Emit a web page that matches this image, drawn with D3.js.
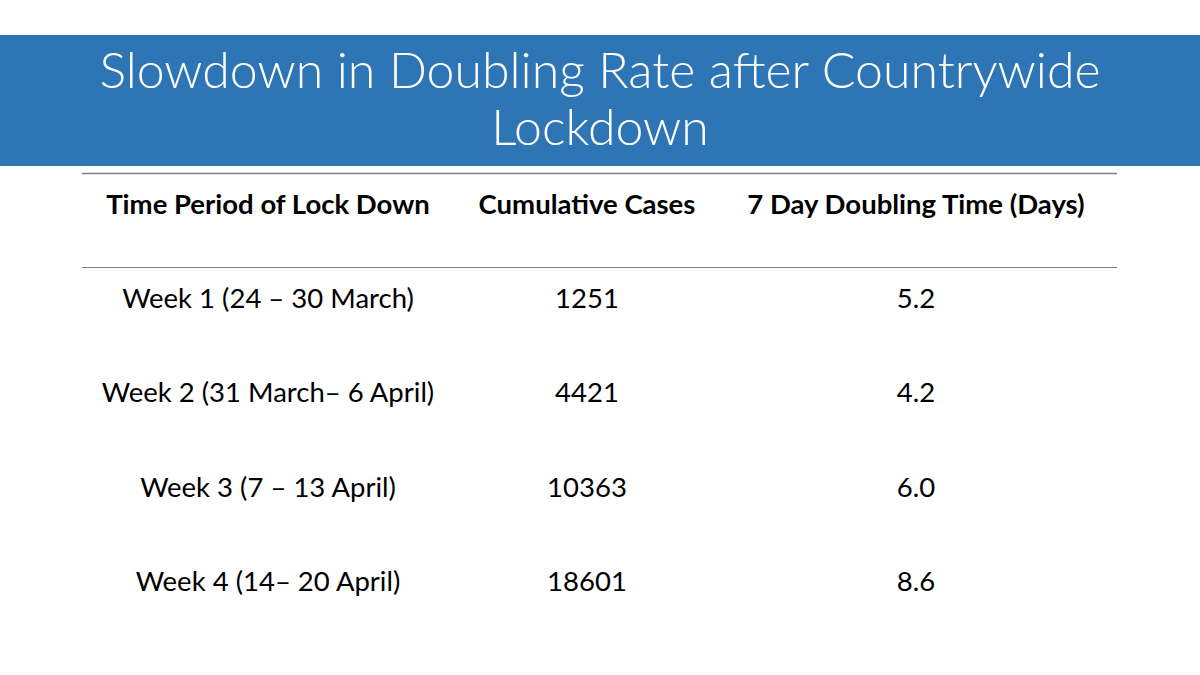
<!DOCTYPE html>
<html>
<head>
<meta charset="utf-8">
<script src="https://cdn.jsdelivr.net/npm/d3@7"></script>
<style>
  body { margin: 0; background: #fff; }
  svg { display: block; }
</style>
</head>
<body>
<svg class="slide"></svg>
<script>
const titleLines = ['Slowdown in Doubling Rate after Countrywide', 'Lockdown'];
const headers = ['Time Period of Lock Down', 'Cumulative Cases', '7 Day Doubling Time (Days)'];
const periods = ['Week 1 (24 \u2013 30 March)', 'Week 2 (31 March\u2013 6 April)', 'Week 3 (7 \u2013 13 April)', 'Week 4 (14\u2013 20 April)'];
const cases = [1251, 4421, 10363, 18601];
const doubling = ['5.2', '4.2', '6.0', '8.6'];

const width = 1200;
const height = 675;
const font = 'Lato, "Open Sans", sans-serif';

const svg = d3.select('.slide')
  .attr('width', width)
  .attr('height', height);

// title banner
svg.append('rect')
  .attr('x', 0)
  .attr('y', 35)
  .attr('width', width)
  .attr('height', 131)
  .attr('fill', '#2E75B6');

svg.selectAll('text.title')
  .data(titleLines)
  .enter()
  .append('text')
  .attr('class', 'title')
  .attr('x', width / 2)
  .attr('y', (d, i) => 88 + i * 57)
  .attr('text-anchor', 'middle')
  .attr('font-family', font)
  .attr('font-weight', 300)
  .attr('font-size', 50)
  .attr('fill', '#fff')
  .text(d => d);

// table columns (centres) and rows
const colX = [268, 587, 916];

const rowY = d3.scaleLinear()
  .domain([0, periods.length - 1])
  .range([308, 591]);

svg.append('line')
  .attr('x1', 82).attr('x2', 1117)
  .attr('y1', 173.5).attr('y2', 173.5)
  .attr('stroke', '#7f7f7f')
  .attr('stroke-width', 1.5);

svg.append('line')
  .attr('x1', 82).attr('x2', 1117)
  .attr('y1', 267.5).attr('y2', 267.5)
  .attr('stroke', '#7f7f7f')
  .attr('stroke-width', 1.2);

svg.selectAll('text.head')
  .data(headers)
  .enter()
  .append('text')
  .attr('class', 'head')
  .attr('x', (d, i) => colX[i])
  .attr('y', 214)
  .attr('text-anchor', 'middle')
  .attr('font-family', font)
  .attr('font-weight', 700)
  .attr('font-size', 27.5)
  .attr('fill', '#000')
  .text(d => d);

const rows = periods.map((p, i) => [p, String(cases[i]), doubling[i]]);

rows.forEach((row, r) => {
  svg.selectAll(null)
    .data(row)
    .enter()
    .append('text')
    .attr('x', (d, i) => colX[i])
    .attr('y', rowY(r))
    .attr('text-anchor', 'middle')
    .attr('font-family', font)
    .attr('font-size', 27.5)
    .attr('fill', '#000')
    .text(d => d);
});
</script>
</body>
</html>
